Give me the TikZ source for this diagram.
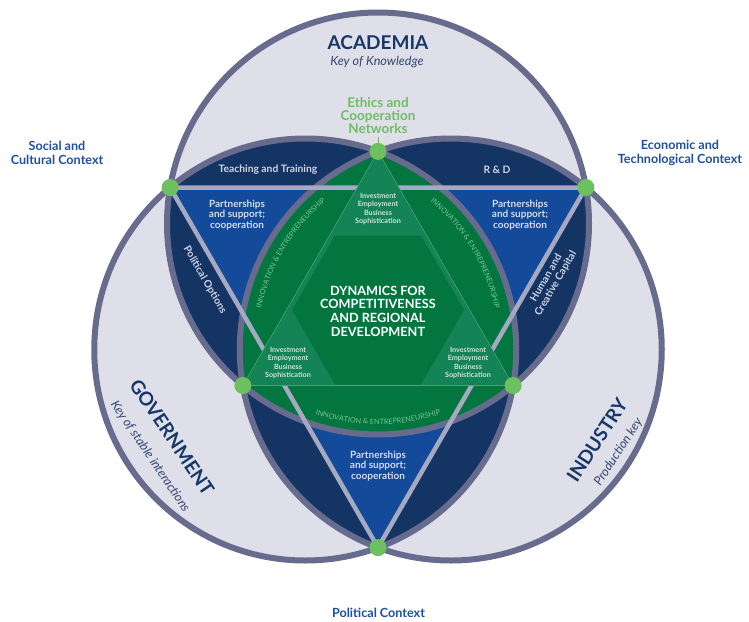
\documentclass[tikz,border=0pt]{standalone}
\usepackage{fontspec}
\setmainfont{Lato}
\usetikzlibrary{decorations.text}

\definecolor{ringfill}{HTML}{DEDFE9}
\definecolor{ringline}{HTML}{676B8E}
\definecolor{navy}{HTML}{143564}
\definecolor{midblue}{HTML}{134A9A}
\definecolor{deepgreen}{HTML}{03763F}
\definecolor{lightgreen}{HTML}{148356}
\definecolor{dotgreen}{HTML}{6DC05F}
\definecolor{edgegray}{HTML}{A6A9C2}
\definecolor{labelblue}{HTML}{1E4FA0}
\definecolor{titlenavy}{HTML}{163767}
\definecolor{subnavy}{HTML}{34466F}
\definecolor{navytext}{HTML}{CDD3E4}
\definecolor{bluetext}{HTML}{D3DAEE}
\definecolor{paletext}{HTML}{CFE5D9}
\definecolor{innovtext}{HTML}{7AC495}
\definecolor{triline}{HTML}{4E9F78}

\begin{document}
\begin{tikzpicture}[x=1pt,y=-1pt,
  ringedge/.style={draw=ringline, line width=6pt},
  dot/.style={circle, fill=dotgreen, minimum size=17pt, inner sep=0pt},
  outerlabel/.style={font=\fontsize{12.6}{13.6}\selectfont\bfseries, text=labelblue, align=center},
  title/.style={font=\fontsize{19}{22}\selectfont\bfseries, text=titlenavy},
  subtitle/.style={font=\fontsize{12.6}{14}\selectfont\itshape, text=subnavy},
  navylabel/.style={font=\fontsize{10.3}{11}\selectfont\bfseries, text=navytext, align=center},
  bluelabel/.style={font=\fontsize{10}{10.2}\selectfont\bfseries, text=bluetext, align=center},
  investlabel/.style={font=\fontsize{7.2}{8.4}\selectfont\bfseries, text=paletext, align=center},
  innovpath/.style={decorate, decoration={text along path, text align=center,
      text color=innovtext, text={|\fontsize{7.3}{8}\selectfont|INNOVATION {\&} ENTREPRENEURSHIP}}}
]
\useasboundingbox (0,0) rectangle (749,621);
\fill[white] (0,0) rectangle (749,621);

% geometry of the three rings
\def\R{211}
\coordinate (A) at (378,223.5);
\coordinate (G) at (305.25,349.5);
\coordinate (I) at (450.75,349.5);
% outer crossing points
\coordinate (PL) at (170.1,187.5);
\coordinate (PR) at (585.9,187.5);
\coordinate (PB) at (378,547.6);
% inner crossing points
\coordinate (QT) at (378,151.4);
\coordinate (QL) at (242.85,385.5);
\coordinate (QR) at (513.15,385.5);

% single-ring areas
\fill[ringfill] (A) circle[radius=\R] (G) circle[radius=\R] (I) circle[radius=\R];
% pairwise overlaps
\begin{scope}
  \clip (A) circle[radius=\R];
  \fill[navy] (G) circle[radius=\R] (I) circle[radius=\R];
\end{scope}
\begin{scope}
  \clip (G) circle[radius=\R];
  \fill[navy] (I) circle[radius=\R];
\end{scope}
% overlap parts inside the big triangle
\begin{scope}
  \clip (PL) -- (PR) -- (PB) -- cycle;
  \begin{scope}
    \clip (A) circle[radius=\R];
    \fill[midblue] (G) circle[radius=\R] (I) circle[radius=\R];
  \end{scope}
  \begin{scope}
    \clip (G) circle[radius=\R];
    \fill[midblue] (I) circle[radius=\R];
  \end{scope}
\end{scope}
% common core
\begin{scope}
  \clip (A) circle[radius=\R];
  \clip (G) circle[radius=\R];
  \fill[deepgreen] (I) circle[radius=\R];
\end{scope}

% ring outlines
\draw[ringedge] (A) circle[radius=\R] (G) circle[radius=\R] (I) circle[radius=\R];

% big triangle
\draw[edgegray, line width=4.5pt] (PL) -- (PR) -- (PB) -- cycle;

% inner triangle and hexagon
\filldraw[fill=lightgreen, draw=triline, line width=0.6pt] (QT) -- (QL) -- (QR) -- cycle;
\fill[deepgreen] (292,310) -- (335,235.5) -- (421,235.5) -- (464,310) -- (421,384.5) -- (335,384.5) -- cycle;

% arc captions
\path[innovpath] (A) ++(111:201) arc[start angle=111, end angle=69, radius=201];
\path[innovpath] (I) ++(183:194) arc[start angle=183, end angle=239, radius=194];
\path[innovpath] (G) ++(301:194) arc[start angle=301, end angle=357, radius=194];

% crossing dots
\node[dot] (dl) at (PL) {};
\node[dot] (dr) at (PR) {};
\node[dot] (db) at (PB) {};
\node[dot] (dt) at (QT) {};
\node[dot] (dil) at (QL) {};
\node[dot] (dir) at (QR) {};

% titles
\node[title] (acad) at (378,42.5) {ACADEMIA};
\node[subtitle, anchor=base] (acadkey) at (377,65) {Key of Knowledge};
\node[title, rotate=-56] (gov) at (172,437) {GOVERNMENT};
\node[subtitle, rotate=-56] (govkey) at (150,456.5) {Key of stable interactions};
\node[title, rotate=57] (ind) at (597,440) {INDUSTRY};
\node[subtitle, rotate=57] (indkey) at (618.5,452) {Production key};

% ethics label and its tick
\node[font=\fontsize{13.5}{12.7}\selectfont\bfseries, text=dotgreen, align=center] (ethics) at (378,115.5) {Ethics and\\Cooperation\\Networks};
\draw[dotgreen, line width=1pt] (ethics.south) -- (dt.north);

% context labels
\node[outerlabel] (social) at (57,153) {Social and\\Cultural Context};
\node[outerlabel] (econ) at (680,153) {Economic and\\Technological Context};
\node[outerlabel] (polctx) at (378.5,612.5) {Political Context};

% labels in the overlaps
\node[navylabel] (teach) at (268,170) {Teaching and Training};
\node[navylabel] (rnd) at (497,170) {R \& D};
\node[navylabel, rotate=-60] (polopt) at (205,280) {Political Options};
\node[navylabel, rotate=60] (human) at (551,281) {Human and\\Creative Capital};
\node[bluelabel] (pleft) at (237,215) {Partnerships\\and support;\\cooperation};
\node[bluelabel] (pright) at (520,215) {Partnerships\\and support;\\cooperation};
\node[bluelabel] (pbottom) at (378,466) {Partnerships\\and support;\\cooperation};

% labels in the core
\node[investlabel] (itop) at (378,209) {Investment\\Employment\\Business\\Sophistication};
\node[investlabel] (ileft) at (288,363) {Investment\\Employment\\Business\\Sophistication};
\node[investlabel] (iright) at (468,363) {Investment\\Employment\\Business\\Sophistication};
\node[font=\fontsize{12.7}{13.7}\selectfont\bfseries, text=white, align=center] (core) at (378,311) {DYNAMICS FOR\\COMPETITIVENESS\\AND REGIONAL\\DEVELOPMENT};
\end{tikzpicture}
\end{document}
